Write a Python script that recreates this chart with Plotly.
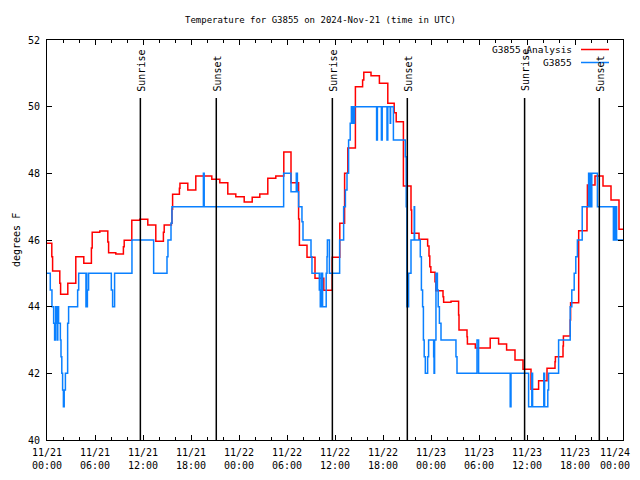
import plotly.graph_objects as go
import pandas as pd

title_text = "Temperature for G3855 on 2024-Nov-21 (time in UTC)"
start_time = "2024-11-21 00:00"

# Analysis series: (hours since start, deg F), step-wise
red_hours = [0, 0.6, 0.7, 1.6, 1.7, 2.6, 3.6, 4.6, 5.55, 5.65, 6.6, 7.6, 7.7, 8.6, 9.55, 9.65,
             10.6, 11.6, 12.6, 13.6, 14.55, 14.65, 15.55, 15.62, 15.7, 16.55, 16.62, 17.6, 18.6,
             20.6, 21.6, 22.6, 23.6, 24.65, 25.65, 26.6, 27.6, 28.6, 29.6, 30.5, 31.45, 31.55,
             32.5, 33.5, 34.6, 35.65, 36.6, 37.2, 37.6, 38.55, 39.45, 39.6, 40.5, 41.55, 42.6,
             43.4, 43.65, 44.55, 45.5, 45.58, 46.5, 47.58, 47.75, 47.85, 47.98, 48.5, 48.6,
             49.5, 49.58, 50.5, 51.45, 51.5, 52.5, 52.55, 53.54, 55.4, 56.45, 57.45, 58.5,
             59.5, 60.5, 61.45, 62.5, 63.5, 63.55, 64.5, 64.55, 65.4, 65.45, 66.46, 67.5,
             67.55, 68.5, 69.5, 70.5, 71.5, 72]
red_vals = [45.9, 45.5, 45.07, 44.7, 44.37, 44.7, 45.5, 45.3, 45.76, 46.23, 46.27, 45.94, 45.62,
            45.58, 45.8, 45.99, 46.59, 46.62, 46.45, 45.96, 46.23, 46.45, 46.5, 46.92, 47.37,
            47.55, 47.7, 47.5, 47.92, 47.82, 47.72, 47.38, 47.3, 47.14, 47.28, 47.38, 47.85,
            47.92, 48.64, 47.72, 46.63, 45.84, 45.48, 44.85, 44.49, 45.48, 46.5, 48.0, 48.76,
            50.6, 50.8, 51.03, 50.93, 50.7, 50.1, 49.82, 49.55, 47.62, 46.9, 46.2, 46.02, 45.82,
            45.52, 45.2, 45.03, 44.75, 44.48, 44.3, 44.13, 44.16, 43.75, 43.3, 43.1, 42.88,
            42.76, 43.05, 42.88, 42.7, 42.4, 42.12, 41.52, 41.78, 42.15, 42.35, 42.5, 42.82,
            43.12, 43.6, 44.12, 46.28, 47.0, 47.65, 47.92, 47.62, 47.2, 46.32, 46.32]

# Observed series
blue_hours = [0, 0.41, 0.62, 0.83, 0.95, 1.08, 1.2, 1.25, 1.3, 1.35, 1.45, 1.67, 1.75, 1.85,
              1.95, 2.05, 2.15, 2.3, 2.58, 2.7, 3.83, 3.96, 4.87, 4.92, 4.97, 5.05, 5.2, 8.04,
              8.2, 8.45, 10.62, 13.33, 15.0, 15.12, 15.5, 15.62, 19.55, 19.65, 29.58, 30.5,
              31.16, 31.3, 31.45, 31.87, 32.0, 33.0, 33.12, 34.04, 34.16, 34.25, 34.3, 34.4,
              34.45, 34.9, 35.0, 35.05, 35.3, 36.58, 37.08, 37.3, 37.5, 37.7, 37.9, 38.05,
              38.15, 38.2, 38.25, 38.3, 38.4, 38.45, 41.2, 41.3, 41.8, 41.9, 42.5, 42.6, 42.9,
              42.95, 43.3, 44.79, 44.9, 44.99, 45.05, 45.1, 45.2, 45.5, 45.9, 45.95, 46.66,
              46.8, 46.95, 47.05, 47.15, 47.29, 47.58, 47.7, 48.33, 48.38, 48.45, 48.62, 48.8,
              48.9, 49.05, 49.25, 51.12, 51.25, 53.75, 53.95, 57.9, 58.0, 60.2, 60.6, 60.7,
              62.1, 62.2, 62.6, 62.7, 63.95, 65.4, 65.6, 65.9, 66.1, 66.3, 66.9, 67.7, 67.8,
              67.9, 68.0, 68.1, 68.8, 70.8, 70.9, 71.0, 71.1, 71.2, 72]
blue_vals = [45, 44.5, 44, 43.5, 43, 44, 43.5, 44, 43, 44, 43.5, 43, 42.5, 42,
             41.5, 41, 41.5, 42, 43.5, 44, 44.5, 45, 44, 45, 44, 44.5, 45, 44.5,
             44, 45, 46, 45, 45.5, 46, 46.5, 47, 48, 47, 48, 47.45,
             48, 47.45, 47, 46.55, 46, 45.5, 45, 44.5, 44, 45, 44, 45,
             44, 45, 45.5, 46, 45, 46, 47, 47.5, 48, 49, 49.5, 50,
             49.5, 50, 49.5, 50, 49.5, 50, 49, 50, 49, 50, 49, 50, 49.5,
             50, 49, 48.5, 47, 44, 45, 44, 45, 46, 47, 46, 45.5,
             44.5, 44, 43, 42.5, 42, 42.5, 43, 42.5, 42, 43, 45, 44.5,
             44, 43.5, 43, 42.5, 42, 43, 42, 41, 42, 41, 42, 41,
             42, 41, 41.5, 42, 43, 44, 44.5, 45, 45.5, 46, 47, 48, 47,
             48, 47, 48, 47, 46, 47, 46, 47, 46, 46]

sun_labels = ["Sunrise", "Sunset", "Sunrise", "Sunset", "Sunrise", "Sunset"]
sun_hours = [11.67, 21.16, 35.67, 45.04, 59.7, 69.04]

tick_hours = list(range(0, 73, 6))
tick_text = ["11/21<br>00:00", "11/21<br>06:00", "11/21<br>12:00", "11/21<br>18:00",
             "11/22<br>00:00", "11/22<br>06:00", "11/22<br>12:00", "11/22<br>18:00",
             "11/23<br>00:00", "11/23<br>06:00", "11/23<br>12:00", "11/23<br>18:00",
             "11/24<br>00:00"]
y_ticks = [40, 42, 44, 46, 48, 50, 52]

series_names = ["G3855 Analysis", "G3855"]
series_colors = ["#ff0000", "#0a80ff"]

t0 = pd.Timestamp(start_time)
def T(h):
    return t0 + pd.Timedelta(hours=h)

FONT = "DejaVu Sans Mono"
fig = go.Figure()
fig.add_trace(go.Scatter(x=[T(h) for h in red_hours], y=red_vals, mode="lines",
                         line=dict(color=series_colors[0], width=1.5, shape="hv"),
                         name=series_names[0], showlegend=False))
fig.add_trace(go.Scatter(x=[T(h) for h in blue_hours], y=blue_vals, mode="lines",
                         line=dict(color=series_colors[1], width=1.5, shape="hv"),
                         name=series_names[1], showlegend=False))

# page has an 8px body margin: figure is placed at (8, 8)
OFF = 8
FW, FH = 632, 464
L, TOP = 47 - OFF, 40 - OFF
R = FW - (623 - OFF)
BOT = FH - (440 - OFF)
PW, PH = FW - L - R, FH - TOP - BOT
def px(x):  # page pixel x -> paper
    return (x - OFF - L) / PW
def py(y):  # page pixel y -> paper
    return (FH - BOT - (y - OFF)) / PH

shapes = []
annotations = []
for lab, h in zip(sun_labels, sun_hours):
    shapes.append(dict(type="line", xref="x", yref="y", x0=T(h), x1=T(h), y0=40, y1=50.26,
                       line=dict(color="black", width=1.5)))
    annotations.append(dict(x=T(h), y=50.4, xref="x", yref="y", text=lab, textangle=-90,
                            showarrow=False, xanchor="center", yanchor="bottom", xshift=1,
                            font=dict(family=FONT, size=10, color="black")))

# legend (gnuplot style: text then sample)
for i, (nm, col) in enumerate(zip(series_names, series_colors)):
    yy = 49.5 + 13 * i
    annotations.append(dict(x=px(574), y=py(yy), xref="paper", yref="paper", text=nm,
                            showarrow=False, xanchor="right", yanchor="middle",
                            font=dict(family=FONT, size=9.5, color="black")))
    shapes.append(dict(type="line", xref="paper", yref="paper", x0=px(581), x1=px(609),
                       y0=py(yy), y1=py(yy), line=dict(color=col, width=1.5)))

annotations.append(dict(x=px(320), y=py(20), xref="paper", yref="paper", text=title_text,
                        showarrow=False, xanchor="center", yanchor="middle",
                        font=dict(family=FONT, size=9, color="black")))
annotations.append(dict(x=px(8.5), y=py(240), xref="paper", yref="paper", text="degrees F",
                        textangle=-90, showarrow=False, xanchor="left", yanchor="middle",
                        font=dict(family=FONT, size=10, color="black")))

# last x tick label would be clipped at the page edge: place it as a right-anchored text
last_label = tick_text[-1]
axis_text = tick_text[:-1] + [""]
annotations.append(dict(x=px(631.5), y=py(444.5), xref="paper", yref="paper", text=last_label,
                        showarrow=False, xanchor="right", yanchor="top",
                        font=dict(family=FONT, size=10, color="black")))

fig.update_layout(
    width=FW, height=FH, margin=dict(l=L, r=R, t=TOP, b=BOT, autoexpand=False),
    paper_bgcolor="white", plot_bgcolor="white",
    font=dict(family=FONT, size=10, color="black"),
    shapes=shapes, annotations=annotations, showlegend=False,
)
fig.update_xaxes(type="date", range=[T(0), T(72)], tickvals=[T(h) for h in tick_hours],
                 ticktext=axis_text, ticks="inside", ticklen=5, tickcolor="black",
                 showline=True, linecolor="black", linewidth=1, mirror="ticks",
                 showgrid=False, zeroline=False, automargin=False, ticklabelstandoff=3,
                 minor=dict(dtick=2 * 3600 * 1000, ticks="inside", ticklen=3,
                            tickcolor="black", showgrid=False))
fig.update_yaxes(range=[40, 52], tickvals=y_ticks, ticks="inside", ticklen=5,
                 tickcolor="black", showline=True, linecolor="black", linewidth=1,
                 mirror="ticks", showgrid=False, zeroline=False, automargin=False,
                 ticklabelstandoff=4)

fig.write_html("out.html")
